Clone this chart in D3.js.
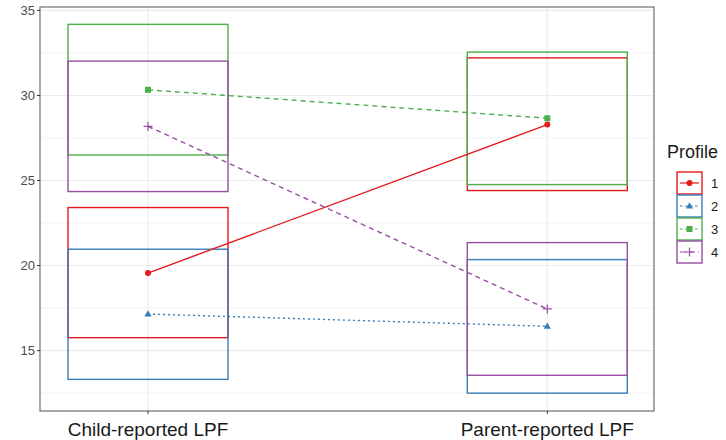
<!DOCTYPE html>
<meta charset="utf-8">
<html>
  <head>
    <style>
     body { margin: 0; background: #fff; }
     text { font-family: "Liberation Sans", Arial, sans-serif; }
     .grid line { stroke: #ebebeb; }
     .ytick text { fill: #4d4d4d; font-size: 13px; }
    </style>
    <script src="https://d3js.org/d3.v7.min.js"></script>
  </head>
  <body>
    <div id="chart"></div>
    <script type="text/javascript">
     var informants = ["Child-reported LPF", "Parent-reported LPF"],
         profiles = ["1", "2", "3", "4"],
         colors = ["#E41A1C", "#377EB8", "#4DAF4A", "#984EA3"],
         dashes = [null, "2,3", "5,4", "5,4"],
         shapes = ["circle", "triangle", "square", "plus"];

     // mean and box limits per profile, [child, parent]
     var means = [[19.56, 28.29], [17.15, 16.43], [30.33, 28.66], [28.18, 17.45]],
         lows  = [[15.76, 24.41], [13.31, 12.50], [26.50, 24.76], [24.35, 13.55]],
         highs = [[23.41, 32.21], [20.96, 20.35], [34.18, 32.55], [32.02, 21.35]];

     var yTicks = [15, 20, 25, 30, 35],
         yMinor = [12.5, 17.5, 22.5, 27.5, 32.5];

     var W = 726, H = 440,
         panel = { left: 40, right: 654, top: 7, bottom: 411 },
         halfBox = 80;

     var svg = d3.select("#chart").append("svg")
                 .attr("width", W)
                 .attr("height", H);

     var x = d3.scalePoint().domain(informants).range([148, 547.3]);
     var y = d3.scaleLinear().domain([11.45, 35.2]).range([panel.bottom, panel.top]);

     // grid
     var grid = svg.append("g").attr("class", "grid");
     grid.selectAll(".minor").data(yMinor).enter().append("line")
         .attr("x1", panel.left).attr("x2", panel.right)
         .attr("y1", function(d) { return y(d); }).attr("y2", function(d) { return y(d); })
         .style("stroke-width", 0.6);
     grid.selectAll(".major").data(yTicks).enter().append("line")
         .attr("x1", panel.left).attr("x2", panel.right)
         .attr("y1", function(d) { return y(d); }).attr("y2", function(d) { return y(d); })
         .style("stroke-width", 1.1);
     grid.selectAll(".vmajor").data(informants).enter().append("line")
         .attr("y1", panel.top).attr("y2", panel.bottom)
         .attr("x1", function(d) { return x(d); }).attr("x2", function(d) { return x(d); })
         .style("stroke-width", 1.1);

     // build records
     var boxes = [], points = [];
     profiles.forEach(function(p, i) {
       informants.forEach(function(inf, j) {
         boxes.push({ p: i, inf: inf, lo: lows[i][j], hi: highs[i][j] });
         points.push({ p: i, inf: inf, m: means[i][j] });
       });
     });

     svg.selectAll(".box").data(boxes).enter().append("rect")
        .attr("x", function(d) { return x(d.inf) - halfBox; })
        .attr("width", halfBox * 2)
        .attr("y", function(d) { return y(d.hi); })
        .attr("height", function(d) { return y(d.lo) - y(d.hi); })
        .style("fill", "none")
        .style("stroke", function(d) { return colors[d.p]; })
        .style("stroke-width", 1.4);

     var line = d3.line()
                  .x(function(d) { return x(d.inf); })
                  .y(function(d) { return y(d.m); });

     profiles.forEach(function(p, i) {
       svg.append("path")
          .datum(points.filter(function(d) { return d.p === i; }))
          .attr("d", line)
          .style("fill", "none")
          .style("stroke", colors[i])
          .style("stroke-width", 1.4)
          .style("stroke-dasharray", dashes[i]);
     });

     function drawShape(g, shape, color, cx, cy) {
       if (shape === "circle") {
         g.append("circle").attr("cx", cx).attr("cy", cy).attr("r", 3).style("fill", color);
       } else if (shape === "triangle") {
         g.append("path")
          .attr("d", "M" + cx + "," + (cy - 3.8) + "L" + (cx + 3.6) + "," + (cy + 2.4) + "L" + (cx - 3.6) + "," + (cy + 2.4) + "Z")
          .style("fill", color);
       } else if (shape === "square") {
         g.append("rect").attr("x", cx - 3).attr("y", cy - 3).attr("width", 6).attr("height", 6).style("fill", color);
       } else {
         g.append("path")
          .attr("d", "M" + (cx - 4.5) + "," + cy + "H" + (cx + 4.5) + "M" + cx + "," + (cy - 4.5) + "V" + (cy + 4.5))
          .style("stroke", color).style("stroke-width", 1.2);
       }
     }

     var pts = svg.append("g");
     points.forEach(function(d) {
       drawShape(pts, shapes[d.p], colors[d.p], x(d.inf), y(d.m));
     });

     // panel border
     svg.append("rect")
        .attr("x", panel.left).attr("y", panel.top)
        .attr("width", panel.right - panel.left).attr("height", panel.bottom - panel.top)
        .style("fill", "none").style("stroke", "#6e6e6e").style("stroke-width", 1.2);

     // y axis ticks
     var yt = svg.selectAll(".ytick").data(yTicks).enter().append("g").attr("class", "ytick");
     yt.append("line")
       .attr("x1", panel.left - 3).attr("x2", panel.left)
       .attr("y1", function(d) { return y(d); }).attr("y2", function(d) { return y(d); })
       .style("stroke", "#333");
     yt.append("text")
       .attr("x", panel.left - 5)
       .attr("y", function(d) { return y(d); })
       .attr("dy", "0.35em")
       .style("text-anchor", "end")
       .text(function(d) { return d; });

     // x axis ticks
     var xt = svg.selectAll(".xtick").data(informants).enter().append("g");
     xt.append("line")
       .attr("x1", function(d) { return x(d); }).attr("x2", function(d) { return x(d); })
       .attr("y1", panel.bottom).attr("y2", panel.bottom + 3)
       .style("stroke", "#333");
     xt.append("text")
       .attr("x", function(d) { return x(d); })
       .attr("y", 436)
       .style("text-anchor", "middle")
       .style("font-size", "19px")
       .style("fill", "#1a1a1a")
       .text(function(d) { return d; });

     // legend
     var leg = svg.append("g");
     leg.append("text").attr("x", 667).attr("y", 158)
        .style("font-size", "18px").style("fill", "#1a1a1a").text("Profile");
     var keyH = 23, keyTop = 172, keyL = 677, keyW = 25;
     profiles.forEach(function(p, i) {
       var ky = keyTop + i * keyH;
       var g = leg.append("g");
       g.append("rect").attr("x", keyL).attr("y", ky).attr("width", keyW).attr("height", keyH - 1)
        .style("fill", "none").style("stroke", colors[i]).style("stroke-width", 1.4);
       g.append("line").attr("x1", keyL + 3).attr("x2", keyL + keyW - 3)
        .attr("y1", ky + (keyH - 1) / 2).attr("y2", ky + (keyH - 1) / 2)
        .style("stroke", colors[i]).style("stroke-width", 1.2)
        .style("stroke-dasharray", i === 0 ? null : (i === 3 ? "6,3" : "2.5,2.5"));
       drawShape(g, shapes[i], colors[i], keyL + keyW / 2, ky + (keyH - 1) / 2);
       g.append("text").attr("x", 711).attr("y", ky + (keyH - 1) / 2).attr("dy", "0.35em")
        .style("font-size", "13px").style("fill", "#1a1a1a").text(p);
     });
    </script>
  </body>
</html>
